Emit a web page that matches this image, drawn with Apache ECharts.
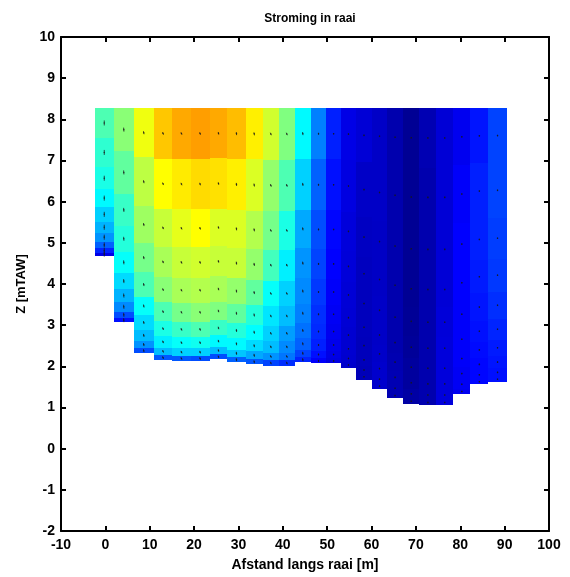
<!DOCTYPE html>
<html>
<head>
<meta charset="utf-8">
<script src="https://cdn.jsdelivr.net/npm/echarts@6/dist/echarts.min.js"></script>
<style>
  html, body { margin: 0; padding: 0; background: #fff; }
  #chart { width: 570px; height: 577px; }
</style>
</head>
<body>
<div id="chart"></div>
<script>
// Cross-section: water surface, vertical column edges (m along the transect) and bed level (mTAW)
const waterLevel = 8.27;
const columnEdges = [-2.4, 1.9, 6.4, 10.9, 15.1, 19.2, 23.5, 27.5, 31.6, 35.5, 39.1, 42.7,
                     46.3, 49.8, 53.1, 56.5, 60.1, 63.5, 67.1, 70.8, 74.6, 78.4, 82.3, 86.3, 90.5];
const bedLevel = [4.69, 3.07, 2.32, 2.15, 2.13, 2.13, 2.17, 2.10, 2.05, 2.02, 2.02, 2.10,
                  2.07, 2.07, 1.97, 1.68, 1.45, 1.22, 1.08, 1.05, 1.05, 1.32, 1.56, 1.62];
// Relative layer boundaries (0 = surface, 1 = bed)
const sigmaEdges = [0, 0.2, 0.4, 0.55, 0.67, 0.77, 0.845, 0.905, 0.95, 0.98, 1];

// Flow magnitude per column, surface layer first (m/s)
const velocity = [
  [0.45, 0.42, 0.40, 0.37, 0.33, 0.30, 0.27, 0.22, 0.16, 0.10],
  [0.51, 0.47, 0.43, 0.41, 0.38, 0.34, 0.30, 0.26, 0.20, 0.14],
  [0.61, 0.56, 0.53, 0.49, 0.45, 0.38, 0.34, 0.31, 0.27, 0.20],
  [0.68, 0.625, 0.57, 0.54, 0.51, 0.45, 0.40, 0.36, 0.31, 0.21],
  [0.71, 0.645, 0.60, 0.57, 0.54, 0.49, 0.43, 0.38, 0.33, 0.21],
  [0.72, 0.66, 0.625, 0.58, 0.55, 0.51, 0.45, 0.39, 0.33, 0.20],
  [0.71, 0.655, 0.59, 0.57, 0.54, 0.50, 0.43, 0.37, 0.31, 0.20],
  [0.69, 0.64, 0.59, 0.57, 0.52, 0.47, 0.41, 0.37, 0.32, 0.22],
  [0.64, 0.59, 0.55, 0.52, 0.47, 0.41, 0.375, 0.34, 0.29, 0.21],
  [0.58, 0.52, 0.49, 0.44, 0.38, 0.35, 0.33, 0.31, 0.27, 0.19],
  [0.50, 0.45, 0.40, 0.36, 0.33, 0.31, 0.28, 0.26, 0.24, 0.17],
  [0.37, 0.33, 0.29, 0.27, 0.26, 0.25, 0.235, 0.22, 0.19, 0.16],
  [0.25, 0.22, 0.20, 0.19, 0.18, 0.17, 0.165, 0.155, 0.14, 0.12],
  [0.155, 0.14, 0.13, 0.125, 0.12, 0.115, 0.11, 0.105, 0.10, 0.095],
  [0.10, 0.095, 0.09, 0.088, 0.085, 0.083, 0.08, 0.08, 0.078, 0.075],
  [0.085, 0.07, 0.065, 0.062, 0.06, 0.06, 0.058, 0.058, 0.055, 0.055],
  [0.07, 0.07, 0.068, 0.068, 0.07, 0.07, 0.072, 0.075, 0.075, 0.075],
  [0.045, 0.045, 0.045, 0.045, 0.045, 0.045, 0.048, 0.05, 0.05, 0.05],
  [0.02, 0.02, 0.02, 0.02, 0.022, 0.025, 0.03, 0.03, 0.035, 0.035],
  [0.05, 0.045, 0.045, 0.045, 0.045, 0.045, 0.045, 0.045, 0.045, 0.045],
  [0.085, 0.085, 0.085, 0.085, 0.088, 0.09, 0.09, 0.09, 0.09, 0.09],
  [0.11, 0.12, 0.125, 0.125, 0.12, 0.12, 0.12, 0.115, 0.115, 0.11],
  [0.145, 0.155, 0.155, 0.15, 0.145, 0.14, 0.135, 0.13, 0.13, 0.13],
  [0.19, 0.19, 0.185, 0.18, 0.17, 0.16, 0.15, 0.145, 0.14, 0.14]
];

// In-plane flow components per column for the quiver (cm/s): along-transect and vertical
const flowU = [0, 0.3, 0.6, 1.0, 1.0, 0.8, 0.5, 0.3, 0.5, 1.0, 1.0, 0.5,
               0, 0, 0, 0, 0, 0, 0, 0, 0, 0, 0, 0];
const flowW = [-5, -4, -3, -2.5, -2.5, -2.5, -2.5, -3, -3, -2.5, -2.5, -3,
               -2, -1.5, -1.5, -1.5, -1.5, -1.5, -1.5, -1.5, -1.5, -1.5, -1.5, -1.5];

// Jet colour scale for the magnitude
const jet = ['#000080', '#0000ff', '#0080ff', '#00ffff', '#80ff80',
             '#ffff00', '#ff8000', '#ff0000', '#800000'];

// Build cells [x0, x1, zTop, zBottom, value] and arrow anchors [xc, zc, u, w]
const cells = [];
const arrows = [];
velocity.forEach((col, i) => {
  const depth = waterLevel - bedLevel[i];
  col.forEach((v, j) => {
    const zTop = waterLevel - sigmaEdges[j] * depth;
    const zBot = waterLevel - sigmaEdges[j + 1] * depth;
    cells.push([columnEdges[i], columnEdges[i + 1], zTop, zBot, v]);
    arrows.push([(columnEdges[i] + columnEdges[i + 1]) / 2, (zTop + zBot) / 2, flowU[i], flowW[i]]);
  });
});

const FONT = 'Liberation Sans, Arial, sans-serif';
const ARROW_PX = 1.0; // pixels per cm/s

// Cells are snapped to whole pixels so neighbouring blocks meet without seams
function renderCell(params, api) {
  const p0 = api.coord([api.value(0), api.value(2)]);
  const p1 = api.coord([api.value(1), api.value(3)]);
  const x0 = Math.round(p0[0]), y0 = Math.round(p0[1]);
  const x1 = Math.round(p1[0]), y1 = Math.round(p1[1]);
  return {
    type: 'rect',
    shape: { x: x0, y: y0, width: x1 - x0, height: y1 - y0 },
    style: { fill: api.visual('color') }
  };
}

function renderArrow(params, api) {
  const p = api.coord([api.value(0), api.value(1)]);
  const dx = api.value(2) * ARROW_PX;
  const dy = -api.value(3) * ARROW_PX;
  return {
    type: 'group',
    children: [
      {
        type: 'line',
        shape: { x1: p[0] - dx / 2, y1: p[1] - dy / 2, x2: p[0] + dx / 2 + 0.01, y2: p[1] + dy / 2 + 0.01 },
        style: { stroke: '#1a1a1a', lineWidth: 1, opacity: 0.75 }
      },
      {
        type: 'circle',
        shape: { cx: p[0], cy: p[1], r: 0.8 },
        style: { fill: '#1a1a1a', opacity: 0.7 }
      }
    ]
  };
}

const axisLine = { show: true, onZero: false, lineStyle: { color: '#000', width: 2 } };
const axisTick = { show: true, inside: true, length: 5, lineStyle: { color: '#000', width: 2 } };
const axisLabel = { color: '#000', fontWeight: 'bold', fontSize: 14, fontFamily: FONT };

const chart = echarts.init(document.getElementById('chart'), null, { renderer: 'canvas' });
chart.setOption({
  animation: false,
  backgroundColor: '#fff',
  title: {
    text: 'Stroming in raai',
    left: 305, top: 8, textAlign: 'center',
    textStyle: { color: '#000', fontWeight: 'bold', fontSize: 12, fontFamily: FONT }
  },
  grid: { left: 61, right: 21, top: 37, bottom: 45 },
  visualMap: {
    show: false, type: 'continuous', min: 0, max: 1,
    dimension: 4, seriesIndex: 0,
    inRange: { color: jet }
  },
  xAxis: [
    {
      type: 'value', min: -10, max: 100, interval: 10, position: 'bottom',
      axisLine, axisTick, splitLine: { show: false },
      axisLabel: Object.assign({ margin: 7 }, axisLabel),
      name: 'Afstand langs raai [m]', nameLocation: 'middle', nameGap: 27,
      nameTextStyle: { color: '#000', fontWeight: 'bold', fontSize: 14, fontFamily: FONT }
    },
    {
      type: 'value', min: -10, max: 100, interval: 10, position: 'top',
      axisLine, axisTick, splitLine: { show: false }, axisLabel: { show: false }
    }
  ],
  yAxis: [
    {
      type: 'value', min: -2, max: 10, interval: 1, position: 'left',
      axisLine, axisTick, splitLine: { show: false },
      axisLabel: Object.assign({ margin: 6 }, axisLabel),
      name: 'Z [mTAW]', nameLocation: 'middle', nameGap: 33, nameRotate: 90,
      nameTextStyle: { color: '#000', fontWeight: 'bold', fontSize: 13, fontFamily: FONT }
    },
    {
      type: 'value', min: -2, max: 10, interval: 1, position: 'right',
      axisLine, axisTick, splitLine: { show: false }, axisLabel: { show: false }
    }
  ],
  series: [
    {
      type: 'custom', name: 'snelheid', xAxisIndex: 0, yAxisIndex: 0,
      renderItem: renderCell, data: cells,
      encode: { x: [0, 1], y: [2, 3] }, z: 1
    },
    {
      type: 'custom', name: 'stroming', xAxisIndex: 0, yAxisIndex: 0,
      renderItem: renderArrow, data: arrows,
      encode: { x: 0, y: 1 }, z: 2
    }
  ]
});
</script>
</body>
</html>
